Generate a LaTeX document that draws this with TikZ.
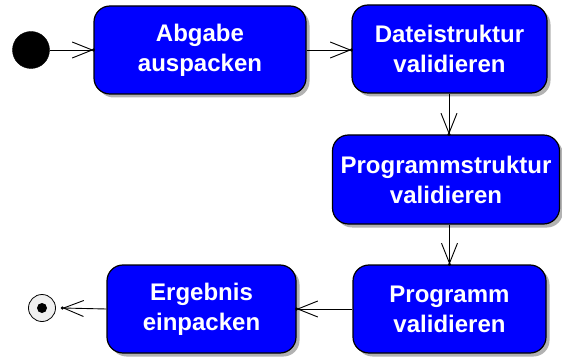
\documentclass[tikz,border=0pt]{standalone}
\usepackage{fontspec}
\setmainfont{Liberation Sans}
\usetikzlibrary{arrows.meta,shadows}

\tikzset{
  activity/.style={
    rectangle, rounded corners=16pt, draw=black, line width=1.2pt,
    fill={rgb,255:red,0;green,0;blue,255}, text=white,
    font=\fontsize{24}{30}\selectfont\bfseries, align=center, inner sep=0pt,
    drop shadow={shadow xshift=3.5pt, shadow yshift=-3.5pt, fill=black!30, opacity=1}
  },
  flow/.style={
    draw=black, line width=0.9pt,
    -{Straight Barb[length=20pt,width=16pt,line width=0.9pt]}
  },
  tipdot/.style={circle, fill=black, inner sep=0pt, minimum size=3.5pt}
}

\begin{document}
\begin{tikzpicture}[x=1pt, y=-1pt]
  \useasboundingbox (0,0) rectangle (562,358);

  % initial and final states
  \node[circle, fill=black, draw=black, inner sep=0pt, minimum size=37pt] (start) at (31,50) {};
  \node[circle, draw=black, line width=0.8pt, fill=black!6, inner sep=0pt, minimum size=27pt] (finish) at (42,308) {};
  \node[circle, fill=black, inner sep=0pt, minimum size=10pt] (finishdot) at (finish.center) {};

  % actions
  \node[activity, minimum width=212pt, minimum height=88pt] (unpack) at (200,50) {Abgabe\\auspacken};
  \node[activity, minimum width=195pt, minimum height=88pt] (files) at (449.5,49) {Dateistruktur\\validieren};
  \node[activity, minimum width=227pt, minimum height=89pt] (structure) at (446,179.5) {Programmstruktur\\validieren};
  \node[activity, minimum width=193pt, minimum height=88pt] (program) at (449.5,309) {Programm\\validieren};
  \node[activity, minimum width=189pt, minimum height=88pt] (pack) at (201.5,309) {Ergebnis\\einpacken};

  % control flow
  \draw[flow] (start.east) -- (unpack.west);
  \node[tipdot] at (unpack.west) {};

  \draw[flow] (unpack.east) -- (unpack.east -| files.west);
  \node[tipdot] at (unpack.east -| files.west) {};

  \draw[flow] (files.south -| 449,0) -- (structure.north -| 449,0);
  \node[tipdot] at (structure.north -| 449,0) {};

  \draw[flow] (structure.south -| program.north) -- (program.north);
  \node[tipdot] at (program.north) {};

  \draw[flow] (program.west) -- (program.west -| pack.east);
  \node[tipdot] at (program.west -| pack.east) {};

  \coordinate (endtip) at ([xshift=6.5pt]finish.east);
  \draw[flow] (pack.west) -- (endtip);
  \node[tipdot] at (endtip) {};
\end{tikzpicture}
\end{document}
